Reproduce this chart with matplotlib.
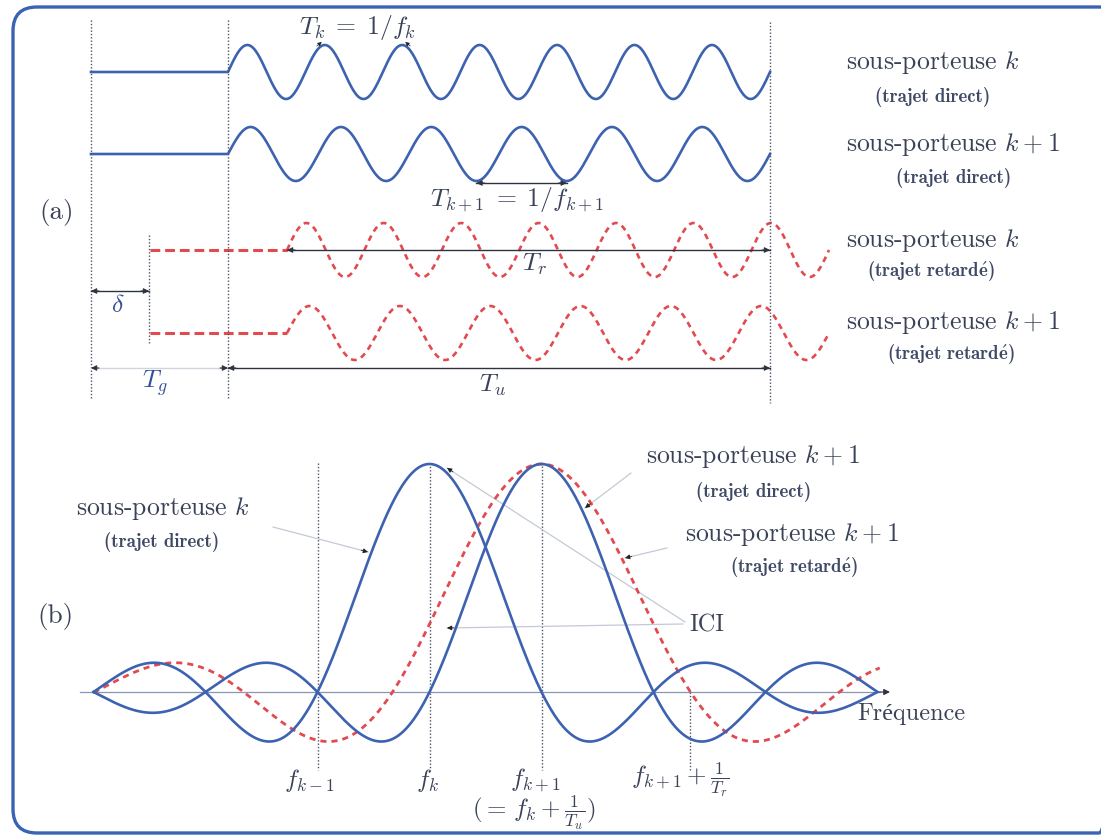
import matplotlib.pyplot as plt
import numpy as np
from matplotlib.patches import FancyBboxPatch

plt.rcParams['mathtext.fontset'] = 'cm'
plt.rcParams['font.family'] = ['cmr10', 'DejaVu Serif']

# (a) time domain: number of cycles in the useful interval for each sub-carrier
row_names = ['sous-porteuse $k$', 'sous-porteuse $k+1$', 'sous-porteuse $k$', 'sous-porteuse $k+1$']
row_paths = ['(trajet direct)', '(trajet direct)', r'(trajet retard$\mathbf{\acute{e}}$)', r'(trajet retard$\mathbf{\acute{e}}$)']
n_cycles = [7, 6, 7, 6]
delayed = [False, False, True, True]

# (b) spectra: centre (units of 1/Tu, f_k = 0) and main-lobe half width (Tu/Tr for delayed path)
spec_centres = [0, 1, 1]
spec_widths = [1.0, 1.0, 1.33]
spec_delayed = [False, False, True]
f_span = [-3, 4.02]
freq_marks = [-1, 0, 1, 2.33]
freq_labels = [r'$f_{k-1}$', r'$f_k$', r'$f_{k+1}$', r'$f_{k+1}+\frac{1}{T_r}$']

blue = '#3d62b0'
red = '#e24a4f'
txt = '#3a4258'
dot_c = '#4c5468'

fig = plt.figure(figsize=(11.01, 8.35), dpi=100)
ax = fig.add_axes([0, 0, 1, 1])
ax.set_xlim(0, 1101)
ax.set_ylim(835, 0)
ax.axis('off')

# frame (runs off the right edge like the scan)
ax.add_patch(FancyBboxPatch((13, 7), 1110, 826, boxstyle='round,pad=0,rounding_size=24',
                            fc='none', ec='#3b63b5', lw=2.4))

def vdot(x, y0, y1):
    ax.plot([x, x], [y0, y1], color=dot_c, lw=1.0, ls=(0, (1, 1.4)))

def harrow(x0, x1, y, color='#2e3340', line=None):
    ax.plot([x0, x1], [y, y], color=line or color, lw=1.0)
    for a, b in [(x0, x0 + 8), (x1, x1 - 8)]:
        ax.annotate('', xy=(a, y), xytext=(b, y),
                    arrowprops=dict(arrowstyle='-|>', color=color, lw=0.8,
                                    mutation_scale=8, shrinkA=0, shrinkB=0))

def pointer(x0, y0, x1, y1):
    ax.plot([x0, x1], [y0, y1], color='#c3cad6', lw=0.9)
    d = np.array([x1 - x0, y1 - y0]) / np.hypot(x1 - x0, y1 - y0)
    ax.annotate('', xy=(x1, y1), xytext=(x1 - 7 * d[0], y1 - 7 * d[1]),
                arrowprops=dict(arrowstyle='-|>', color='#222222', lw=0.6,
                                mutation_scale=7, shrinkA=0, shrinkB=0))

# ---------------- (a) ----------------
x_guard, x_useful, x_end, shift = 91, 228, 770, 59
row_y = [72, 154, 250, 333]
amp = 27

for i in range(4):
    d = shift if delayed[i] else 0
    xs, xe = x_useful + d, x_end + d
    x = np.linspace(xs, xe, 800)
    y = row_y[i] - amp * np.sin(2 * np.pi * n_cycles[i] * (x - xs) / (xe - xs))
    if delayed[i]:
        ax.plot([x_guard + d, xs], [row_y[i], row_y[i]], color=red, lw=2.2, ls=(0, (3.2, 1.6)))
        ax.plot(x, y, color=red, lw=1.9, ls=(0, (2.2, 1.8)))
    else:
        ax.plot(np.r_[x_guard, x], np.r_[row_y[i], y], color=blue, lw=1.9)
    ax.text(846, [62, 145, 240, 322][i], row_names[i], fontsize=18.5, color=txt,
            ha='left', va='center')
    ax.text([933, 954, 931, 951][i], [97, 178, 272, 355][i], row_paths[i], fontsize=13.5,
            family='cmb10', color='#3f4a66', ha='center', va='center')

vdot(x_guard, 20, 400)
vdot(x_useful, 20, 400)
vdot(x_guard + shift - 1, 235, 343)
vdot(x_end, 22, 403)

# periods
p1 = (x_end - x_useful) / n_cycles[0]
p2 = (x_end - x_useful) / n_cycles[1]
for xp, dx in [(x_useful + 1.25 * p1, 1), (x_useful + 2.25 * p1, -1)]:
    ax.annotate('', xy=(xp - 3 * dx, 42), xytext=(xp - 8 * dx, 46),
                arrowprops=dict(arrowstyle='-|>', color='#222222', lw=0.5,
                                mutation_scale=6, shrinkA=0, shrinkB=0))
ax.text(357, 27, r'$T_k\;=\;1/f_k$', fontsize=18.5, color=txt, ha='center', va='center')
harrow(x_useful + 2.75 * p2, x_useful + 3.75 * p2, 183)
ax.text(517, 200, r'$T_{k+1}\;=\;1/f_{k+1}$', fontsize=18.5, color=txt, ha='center', va='center')

harrow(x_useful + shift, x_end, 250)
ax.text(534, 264, r'$T_r$', fontsize=18.5, color=txt, ha='center', va='center')
harrow(x_guard, x_guard + shift - 1, 291)
ax.text(118, 305, r'$\delta$', fontsize=18.5, color='#34509a', ha='center', va='center')
harrow(x_guard, x_useful, 368, line='#d0d4dc')
ax.text(155, 383, r'$T_g$', fontsize=18.5, color='#34509a', ha='center', va='center')
harrow(x_useful, x_end, 368)
ax.text(492, 385, r'$T_u$', fontsize=18.5, color=txt, ha='center', va='center')

ax.text(57, 212, '(a)', fontsize=19.5, color=txt, ha='center', va='center')

# ---------------- (b) ----------------
fx0, fdx, y_ax, a_h = 429.5, 112, 692, 228

ax.plot([80, 880], [y_ax, y_ax], color='#8a96b4', lw=0.9)
ax.annotate('', xy=(890, y_ax), xytext=(878, y_ax),
            arrowprops=dict(arrowstyle='-|>', color='#2e3340', lw=0.8, mutation_scale=9,
                            shrinkA=0, shrinkB=0))

f = np.linspace(f_span[0], f_span[1], 1200)
for c, w, dl in zip(spec_centres, spec_widths, spec_delayed):
    if dl:
        a = np.sinc((f - c) / w)
        ax.plot(fx0 + fdx * f, y_ax - a_h * a, color=red, lw=2.0, ls=(0, (2.2, 1.8)), zorder=3)
    else:
        ff = f[f <= 4.0]
        a = np.sinc((ff - c) / w)
        ax.plot(fx0 + fdx * ff, y_ax - a_h * a, color=blue, lw=1.9, zorder=4)

tops = [463, 463, 466, y_ax]
for fm, top in zip(freq_marks, tops):
    vdot(fx0 + fdx * fm, top, 770)
ax.text(309, 780, freq_labels[0], fontsize=18, color=txt, ha='center', va='center')
ax.text(428, 780, freq_labels[1], fontsize=18, color=txt, ha='center', va='center')
ax.text(535, 780, freq_labels[2], fontsize=18, color=txt, ha='center', va='center')
ax.text(534, 813, r'$(=\,f_k + \frac{1}{T_u})$', fontsize=18, color=txt, ha='center', va='center')
ax.text(631, 780, freq_labels[3], fontsize=18, color=txt, ha='left', va='center')

ax.text(857, 714, 'Fréquence', fontsize=17.5, color=txt, ha='left', va='center',
        family=['cmr10', 'Liberation Serif'])
ax.text(55, 617, '(b)', fontsize=19.5, color=txt, ha='center', va='center')

ax.text(76, 508, 'sous-porteuse $k$', fontsize=18.5, color=txt, ha='left', va='center')
ax.text(162, 542, '(trajet direct)', fontsize=13.5, family='cmb10', color='#3f4a66', ha='center', va='center')
pointer(273, 527, 368, 552)

ax.text(646, 457, 'sous-porteuse $k+1$', fontsize=18.5, color=txt, ha='left', va='center')
ax.text(754, 492, '(trajet direct)', fontsize=13.5, family='cmb10', color='#3f4a66', ha='center', va='center')
pointer(631, 473, 585, 508)

ax.text(685, 535, 'sous-porteuse $k+1$', fontsize=18.5, color=txt, ha='left', va='center')
ax.text(794, 568, r'(trajet retard$\mathbf{\acute{e}}$)', fontsize=13.5, family='cmb10', color='#3f4a66',
        ha='center', va='center')
pointer(667, 548, 625, 558)

ax.text(689, 625, 'ICI', fontsize=17.5, color=txt, ha='left', va='center')
pointer(685, 622, 447, 468)
pointer(683, 624, 447, 628)

fig.savefig('out.png', dpi=100)
